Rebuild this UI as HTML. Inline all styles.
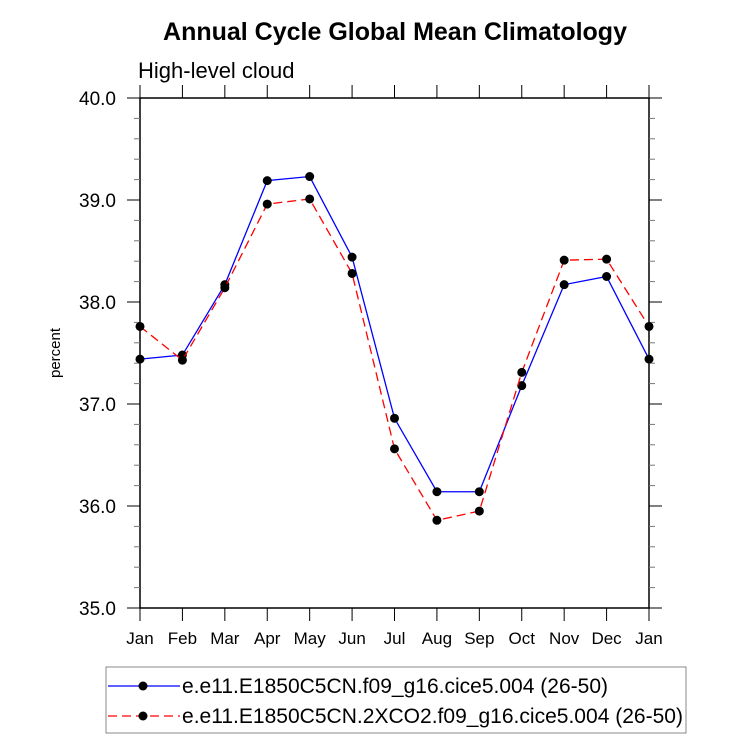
<!DOCTYPE html>
<html><head><meta charset="utf-8"><style>
body{margin:0;background:#fff;}
svg text{font-family:"Liberation Sans",sans-serif;}
</style></head><body>
<svg width="733" height="741" xmlns="http://www.w3.org/2000/svg">
<text x="395" y="40" text-anchor="middle" font-size="25" font-weight="bold">Annual Cycle Global Mean Climatology</text>
<text x="138" y="78" font-size="22">High-level cloud</text>
<text x="0" y="0" font-size="15" text-anchor="middle" transform="translate(60,353) rotate(-90)">percent</text>
<g id="axes"></g>
<g id="series"></g>
<rect x="106" y="667" width="580" height="66" fill="none" stroke="#888" stroke-width="1"/>
<g>
<line x1="108" y1="686" x2="180" y2="686" stroke="#00f" stroke-width="1.3"/>
<circle cx="143" cy="686" r="4.5" fill="#000"/>
<text x="182" y="693" font-size="21" textLength="426" lengthAdjust="spacingAndGlyphs">e.e11.E1850C5CN.f09_g16.cice5.004 (26-50)</text>
</g>
<g>
<line x1="108" y1="716" x2="180" y2="716" stroke="#f00" stroke-width="1.3" stroke-dasharray="9,5"/>
<circle cx="143" cy="716" r="4.5" fill="#000"/>
<text x="182" y="723" font-size="21" textLength="501" lengthAdjust="spacingAndGlyphs">e.e11.E1850C5CN.2XCO2.f09_g16.cice5.004 (26-50)</text>
</g>
</svg>
<script>
const months=["Jan","Feb","Mar","Apr","May","Jun","Jul","Aug","Sep","Oct","Nov","Dec","Jan"];
const controlValues=[37.44,37.48,38.17,39.19,39.23,38.44,36.86,36.14,36.14,37.18,38.17,38.25,37.44];
const co2Values=[37.76,37.43,38.14,38.96,39.01,38.28,36.56,35.86,35.95,37.31,38.41,38.42,37.76];
const yTicks=[35,36,37,38,39,40];
const yTickLabels=["35.0","36.0","37.0","38.0","39.0","40.0"];
const NS="http://www.w3.org/2000/svg";
const L=140,R=649,T=98,B=608,ymin=35,ymax=40;
const xs=i=>L+(R-L)*i/(months.length-1);
const ys=v=>B-(v-ymin)/(ymax-ymin)*(B-T);
function mk(tag,attrs,parent){const e=document.createElementNS(NS,tag);for(const k in attrs)e.setAttribute(k,attrs[k]);parent.appendChild(e);return e;}
const ax=document.getElementById('axes');
const frame=mk('rect',{x:L,y:T,width:R-L,height:B-T,fill:'none',stroke:'#000','stroke-width':1.5},ax);


months.forEach((m,i)=>{
  const x=xs(i);
  mk('line',{x1:x,y1:B,x2:x,y2:B+13,stroke:'#000','stroke-width':1},ax);
  mk('line',{x1:x,y1:T,x2:x,y2:T-13,stroke:'#000','stroke-width':1},ax);
  const t=mk('text',{x:x,y:B+36,'text-anchor':'middle','font-size':17},ax);
  t.textContent=m;
  
  
});
for(let v=ymin;v<=ymax+1e-9;v+=0.2){
  const y=ys(v);const major=Math.abs(v-Math.round(v))<1e-6;
  const len=major?13:6;
  mk('line',{x1:L,y1:y,x2:L-len,y2:y,stroke:major?'#000':'#777','stroke-width':1},ax);
  mk('line',{x1:R,y1:y,x2:R+len,y2:y,stroke:major?'#000':'#777','stroke-width':1},ax);
}
yTicks.forEach((v,i)=>{
  const t=mk('text',{x:L-24,y:ys(v)+7,'text-anchor':'end','font-size':19},ax);
  t.textContent=yTickLabels[i];
  
  
});
const sg=document.getElementById('series');
function series(vals,color,dash,name){
  const g=mk('g',{},sg);
  
  
  const pts=vals.map((v,i)=>xs(i)+','+ys(v)).join(' ');
  const a={points:pts,fill:'none',stroke:color,'stroke-width':1.3};
  if(dash)a['stroke-dasharray']=dash;
  mk('polyline',a,g);
  vals.forEach((v,i)=>{
    const c=mk('circle',{cx:xs(i),cy:ys(v),r:4.5,fill:'#000'},g);
    
    
  });
}
series(controlValues,'#00f',null,'series-control');
series(co2Values,'#f00','9,5','series-2xco2');
</script>
</body></html>
